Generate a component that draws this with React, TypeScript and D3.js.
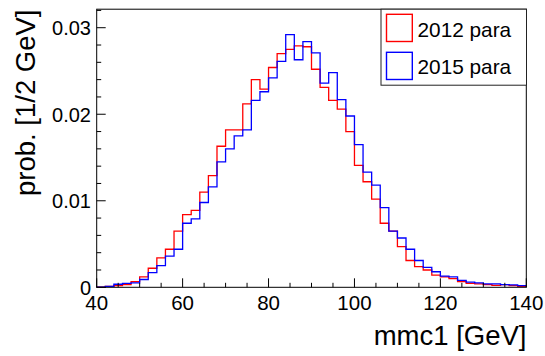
import React from "react";
import * as d3 from "d3";

const binEdges: number[] = d3.range(40, 141, 2);
const series2012: number[] = [
  0.00003, 0.0001, 0.0002, 0.0003, 0.00065, 0.0012, 0.0022, 0.0034, 0.0044, 0.0065,
  0.0084, 0.0089, 0.011, 0.0129, 0.0163, 0.0182, 0.0182, 0.0212, 0.024, 0.0229,
  0.0254, 0.027, 0.0275, 0.0279, 0.0278, 0.0252, 0.0231, 0.0216, 0.0206, 0.018,
  0.0141, 0.0122, 0.0102, 0.0074, 0.0065, 0.0047, 0.0031, 0.0024, 0.002, 0.0014,
  0.0012, 0.001, 0.00065, 0.00046, 0.0004, 0.0003, 0.00023, 0.0003, 0.0002, 0.0001,
];
const series2015: number[] = [
  0.00003, 0.0001, 0.00035, 0.00045, 0.0005, 0.0009, 0.0017, 0.0025, 0.0036, 0.0044,
  0.0074, 0.0079, 0.0098, 0.0116, 0.0145, 0.016, 0.0175, 0.0182, 0.0216, 0.0226,
  0.0242, 0.0261, 0.0292, 0.0263, 0.0284, 0.0271, 0.0236, 0.0248, 0.0217, 0.0198,
  0.0165, 0.0133, 0.0118, 0.0092, 0.0065, 0.0057, 0.0044, 0.0031, 0.0023, 0.0018,
  0.0013, 0.0012, 0.0008, 0.0006, 0.0005, 0.0004, 0.0004, 0.0003, 0.00027, 0.0002,
];
const xTicks: number[] = [40, 60, 80, 100, 120, 140];
const xMinor: number[] = d3.range(40, 141, 5);
const yTicks: number[] = [0, 0.01, 0.02, 0.03];
const yTickLabels: string[] = ["0", "0.01", "0.02", "0.03"];
const yMinor: number[] = d3.range(0, 0.0321, 0.002);
const legendLabels: string[] = ["2012 para", "2015 para"];
const colors: string[] = ["#ff0000", "#0000ff"];

const FONT = "'Liberation Sans', Arial, Helvetica, sans-serif";

export default function App() {
  const W = 545, H = 356;
  const left = 96.7, right = 526.3, top = 9.2, bottom = 287.3;
  const x = d3.scaleLinear().domain([40, 140]).range([left, right]);
  const y = d3.scaleLinear().domain([0, 0.03214]).range([bottom, top]);

  const stepPath = (vals: number[]) => {
    let p = `M${x(binEdges[0])},${y(vals[0])}`;
    vals.forEach((v, i) => {
      p += `V${y(v)}H${x(binEdges[i + 1])}`;
    });
    return p;
  };

  const series = [series2012, series2015];

  return (
    <div style={{ position: "fixed", left: 0, top: 0, width: W, height: H, background: "#fff" }}>
      <svg width={W} height={H} style={{ display: "block" }} fontFamily={FONT}>
        <rect x={0} y={0} width={W} height={H} fill="#fff" />
        {series.map((s, i) => (
          <path key={i} d={stepPath(s)} fill="none" stroke={colors[i]} strokeWidth={1.3} />
        ))}
        {/* frame */}
        <rect x={left} y={top} width={right - left} height={bottom - top} fill="none" stroke="#000" strokeWidth={1} />
        {/* x ticks */}
        {xMinor.map((t) => (
          <line key={"xm" + t} x1={x(t)} x2={x(t)} y1={bottom} y2={bottom - (xTicks.includes(t) ? 9 : 4.5)} stroke="#000" strokeWidth={1} />
        ))}
        {yMinor.map((t, i) => (
          <line key={"ym" + i} x1={left} x2={left + (i % 5 === 0 ? 9 : 4.5)} y1={y(t)} y2={y(t)} stroke="#000" strokeWidth={1} />
        ))}
        {xTicks.map((t) => (
          <text key={"xl" + t} x={x(t)} y={310} textAnchor="middle" fontSize={20.5} fill="#000">{t}</text>
        ))}
        {yTicks.map((t, i) => (
          <text key={"yl" + t} x={91} y={y(t) + 7.3} textAnchor="end" fontSize={20} fill="#000">{yTickLabels[i]}</text>
        ))}
        <text x={526.5} y={345} textAnchor="end" fontSize={27.5} fill="#000">mmc1 [GeV]</text>
        <text transform="translate(35,9.5) rotate(-90)" textAnchor="end" fontSize={27.5} fill="#000">prob. [1/2 GeV]</text>
        {/* legend */}
        <rect x={381} y={9.2} width={145.5} height={76} fill="#fff" stroke="#222" strokeWidth={1} />
        {legendLabels.map((l, i) => (
          <g key={l}>
            <rect x={386.5} y={14.3 + i * 38} width={25.8} height={27.2} fill="none" stroke={colors[i]} strokeWidth={1.4} />
            <text x={417.5} y={36.8 + i * 37.5} fontSize={20.8} fill="#000">{l}</text>
          </g>
        ))}
      </svg>
    </div>
  );
}
